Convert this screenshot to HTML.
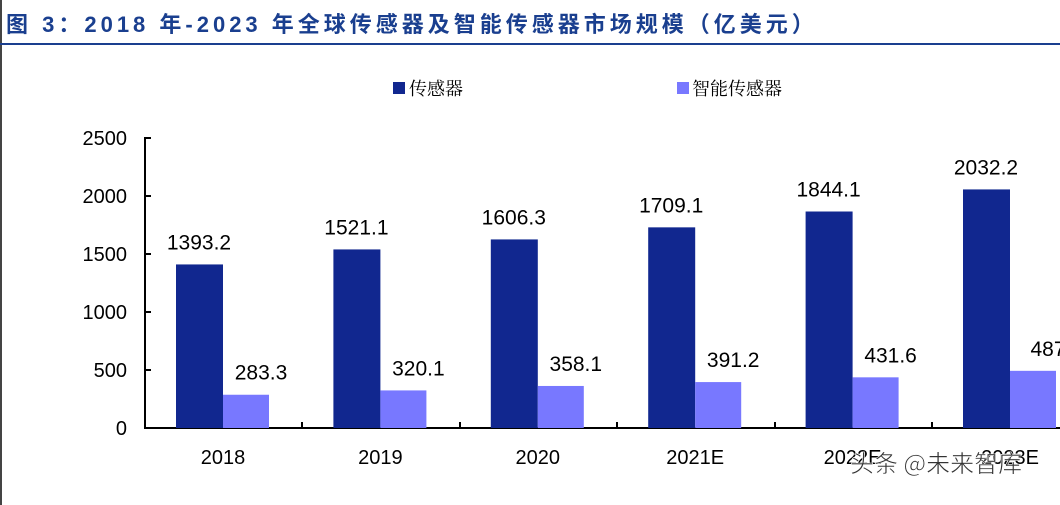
<!DOCTYPE html>
<html><head><meta charset="utf-8"><style>
body{margin:0;width:1060px;height:505px;background:#fff;overflow:hidden;font-family:"Liberation Sans","Noto Sans CJK SC",sans-serif}
</style></head><body>
<svg width="1060" height="505" xmlns="http://www.w3.org/2000/svg" style="position:absolute;left:0;top:0">
<rect x="0" y="0" width="2" height="505" fill="#444"/>
<text x="6" y="32" font-family="Liberation Sans, Noto Sans CJK SC, sans-serif" font-weight="bold" font-size="22" fill="#1a3f8f" letter-spacing="4">图 3：2018 年-2023 年全球传感器及智能传感器市场规模（亿美元）</text>
<rect x="0" y="43" width="1060" height="2" fill="#1a3f8f"/>
<rect x="393" y="82" width="12" height="12" fill="#11278f"/>
<text x="409" y="95" font-size="18" font-family="Liberation Serif, Noto Serif CJK SC, serif">传感器</text>
<rect x="677" y="82" width="12" height="12" fill="#7878ff"/>
<text x="692" y="95" font-size="18" font-family="Liberation Serif, Noto Serif CJK SC, serif">智能传感器</text>
<g font-size="20" text-anchor="end" fill="#000">
<text x="127" y="435">0</text><text x="127" y="377">500</text><text x="127" y="319">1000</text><text x="127" y="261">1500</text><text x="127" y="203">2000</text><text x="127" y="145">2500</text>
</g>
<g stroke="#000" stroke-width="2">
<line x1="145" y1="137" x2="145" y2="429"/>
<line x1="144" y1="428" x2="1060" y2="428"/>
<line x1="145" y1="138" x2="151" y2="138"/><line x1="145" y1="196" x2="151" y2="196"/><line x1="145" y1="254" x2="151" y2="254"/><line x1="145" y1="312" x2="151" y2="312"/><line x1="145" y1="370" x2="151" y2="370"/>
<line x1="302" y1="422" x2="302" y2="428"/><line x1="460" y1="422" x2="460" y2="428"/><line x1="617" y1="422" x2="617" y2="428"/><line x1="775" y1="422" x2="775" y2="428"/><line x1="932" y1="422" x2="932" y2="428"/>
</g>
<g id="bars"></g>
<text x="850" y="472" font-size="24" fill="#333" stroke="#fff" stroke-width="0.6" font-family="Noto Sans CJK SC, sans-serif">头条 @未来智库</text>
</svg>
<script>
var d=[["2018",1393.2,283.3],["2019",1521.1,320.1],["2020",1606.3,358.1],["2021E",1709.1,391.2],["2022E",1844.1,431.6],["2023E",2032.2,487]];
var g=document.getElementById('bars'),s='';
d.forEach(function(r,i){var x0=145+i*157.4,k=0.1174;
var h1=r[1]*k,h2=r[2]*k;
s+='<rect x="'+(x0+31)+'" y="'+(428-h1)+'" width="47" height="'+h1+'" fill="#11278f"/>';
s+='<rect x="'+(x0+78)+'" y="'+(428-h2)+'" width="46" height="'+h2+'" fill="#7878ff"/>';
s+='<text x="'+(x0+54)+'" y="'+(428-h1-15)+'" font-size="21" text-anchor="middle">'+r[1].toFixed(1)+'</text>';
var lab=(i==5)?'487':r[2].toFixed(1);
s+='<text x="'+(x0+116)+'" y="'+(428-h2-15)+'" font-size="21" text-anchor="middle">'+lab+'</text>';
s+='<text x="'+(x0+78)+'" y="464" font-size="20" text-anchor="middle">'+r[0]+'</text>';
});
g.innerHTML=s;
</script>
</body></html>
